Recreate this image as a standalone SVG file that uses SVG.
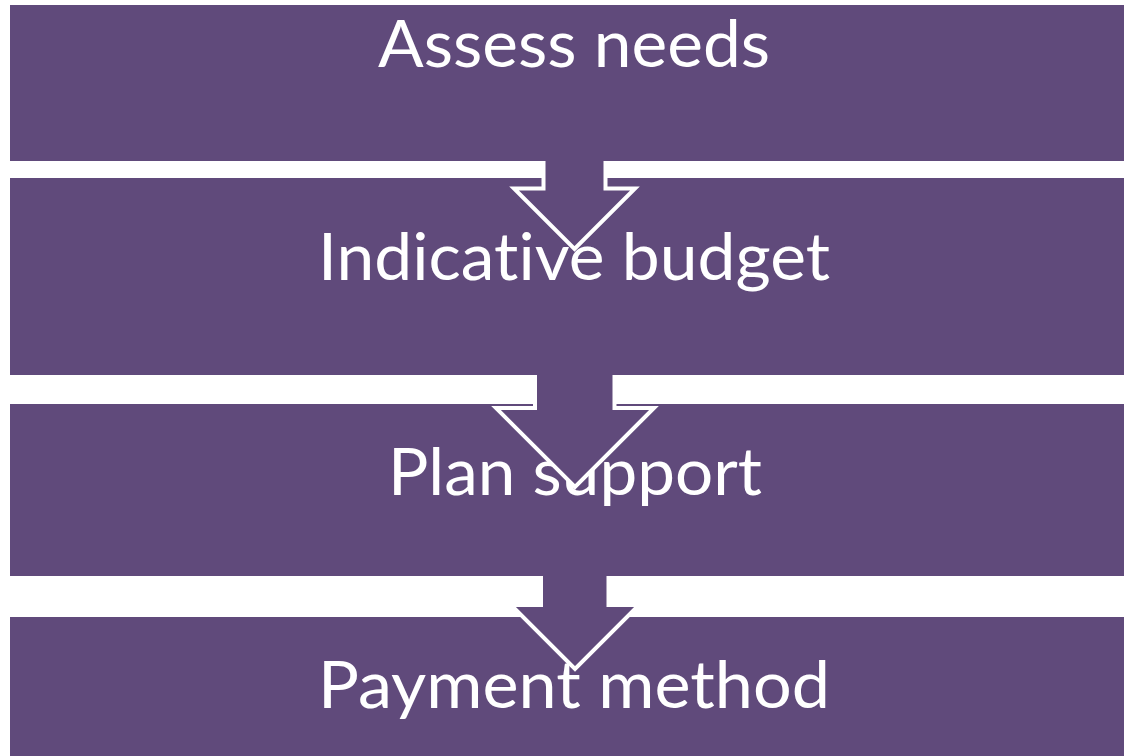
<svg xmlns="http://www.w3.org/2000/svg" width="1124" height="756" viewBox="0 0 1124 756">
  <style>
    .box { fill: #604A7B; }
    .lbl { fill: #FFFFFF; font-family: Lato, "Open Sans", "Liberation Sans", sans-serif; font-size: 66px; text-anchor: middle; font-variant-ligatures: none; font-feature-settings: "liga" 0, "clig" 0; }
    .arrow { fill: #604A7B; stroke: #FFFFFF; stroke-width: 4; stroke-linejoin: miter; stroke-linecap: butt; }
  </style>
  <rect x="0" y="0" width="1124" height="756" fill="#FFFFFF"/>
  <g id="node-assess">
    <rect class="box" x="10" y="5" width="1114" height="156"/>
    <text class="lbl" x="574" y="67" textLength="392" lengthAdjust="spacingAndGlyphs">Assess needs</text>
  </g>
  <g id="node-budget">
    <rect class="box" x="10" y="178" width="1114" height="197"/>
    <text class="lbl" x="574" y="280" textLength="512" lengthAdjust="spacingAndGlyphs">Indicative budget</text>
  </g>
  <g id="node-plan">
    <rect class="box" x="10" y="404" width="1114" height="172"/>
    <text class="lbl" x="575" y="495" textLength="374" lengthAdjust="spacingAndGlyphs">Plan support</text>
  </g>
  <g id="node-payment">
    <rect class="box" x="10" y="617" width="1114" height="139"/>
    <text class="lbl" x="574" y="708" textLength="512" lengthAdjust="spacingAndGlyphs">Payment method</text>
  </g>
  <g id="connectors">
    <path class="arrow" d="M543.5,161 L543.5,188.5 L514,188.5 L574.5,249 L635,188.5 L605.5,188.5 L605.5,161"/>
    <path class="arrow" d="M535,375 L535,408 L496,408 L575,487 L654,408 L614.5,408 L614.5,375"/>
    <path class="arrow" d="M541,576 L541,605 L511,605 L575,669 L639,605 L608.5,605 L608.5,576"/>
  </g>
</svg>
